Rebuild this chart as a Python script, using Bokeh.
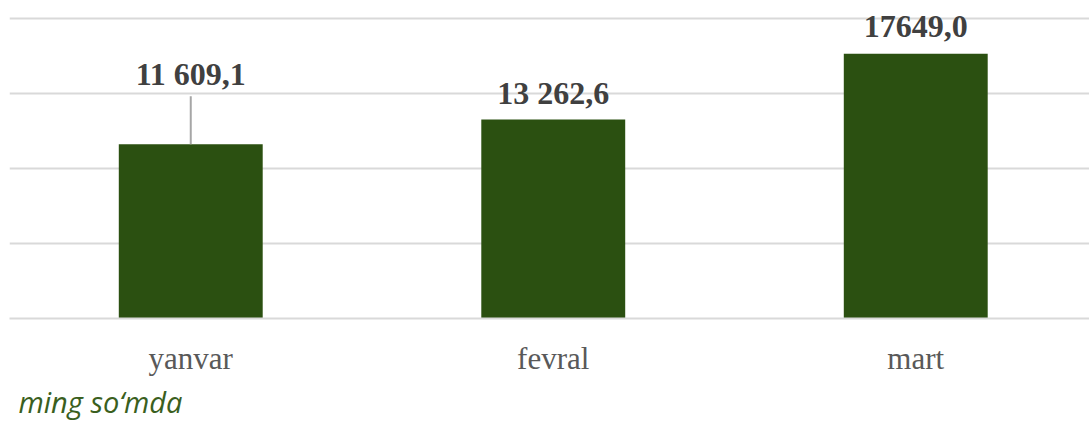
from bokeh.plotting import figure
from bokeh.models import Range1d, FixedTicker, Grid, ColumnDataSource, Title, LinearAxis
from bokeh.embed import file_html
from bokeh.resources import INLINE
from bokeh.core.properties import value

# ---- data ----
categories = ["yanvar", "fevral", "mart"]
values = [11609.1, 13262.6, 17649.0]
value_labels = ["11 609,1", "13 262,6", "17649,0"]
grid_ticks = [0, 5000, 10000, 15000, 20000]
unit_note = "ming so\u2018mda"

# ---- style / layout ----
W, H = 1089, 423
frame_top_pad = 8
frame_bottom_pad = 105
frame_left_pad = 9
frame_w = W - frame_left_pad
frame_h = H - frame_top_pad - frame_bottom_pad
y_start, y_end = 0, 20667
units_per_px = (y_end - y_start) / frame_h
cat_px = 362.5
label_gap_px = [70, 27, 27]
leader_px = [48, 0, 0]

xs = list(range(len(categories)))
src = ColumnDataSource(dict(
    x=xs, top=values, label=value_labels,
    yoff=[-g for g in label_gap_px],
))

p = figure(width=W, height=H, output_backend="svg", toolbar_location=None,
           x_range=Range1d(-0.5, -0.5 + frame_w / cat_px), y_range=Range1d(y_start, y_end),
           x_axis_location=None, y_axis_location=None,
           min_border_left=frame_left_pad, min_border_right=0,
           min_border_top=frame_top_pad, min_border_bottom=frame_bottom_pad)
p.outline_line_color = None
p.background_fill_color = "white"
p.border_fill_color = "white"
for g in p.grid:
    g.visible = False

grid = Grid(dimension=1, ticker=FixedTicker(ticks=grid_ticks),
            grid_line_color="#d9d9d9", grid_line_width=2)
p.add_layout(grid)

xaxis = LinearAxis(ticker=FixedTicker(ticks=xs),
                   major_label_overrides={i: c for i, c in enumerate(categories)})
xaxis.axis_line_color = "#d9d9d9"
xaxis.axis_line_width = 2
xaxis.major_tick_line_color = None
xaxis.minor_tick_line_color = None
xaxis.major_label_text_font = "Liberation Serif"
xaxis.major_label_text_font_size = "31px"
xaxis.major_label_text_color = "#595959"
xaxis.major_label_standoff = 16
p.add_layout(xaxis, "below")

p.vbar(x="x", top="top", width=0.397, bottom=0, source=src,
       fill_color="#2B5011", line_color=None)

# leader line for first label
for i, lp in enumerate(leader_px):
    if lp > 0:
        p.segment(x0=[xs[i]], y0=[values[i]], x1=[xs[i]], y1=[values[i] + lp * units_per_px],
                  line_color="#a6a6a6", line_width=2)

p.text(x="x", y="top", text="label", source=src, y_offset="yoff",
       text_align="center", text_baseline="alphabetic",
       text_font=value("Liberation Serif"), text_font_style="bold",
       text_font_size="32px", text_color="#404040")

note = Title(text=unit_note, align="left", offset=9, standoff=3,
             text_font="Open Sans", text_font_style="italic", text_font_size="29px",
             text_color="#3A5F1E")
p.add_layout(note, "below")

open("out.html", "w").write(file_html(p, INLINE))
